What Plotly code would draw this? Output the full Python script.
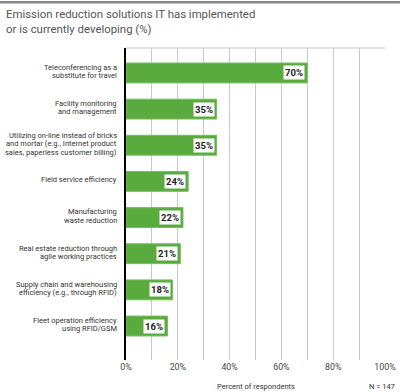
import plotly.graph_objects as go

categories = [
    "Teleconferencing as a<br>substitute for travel",
    "Facility monitoring<br>and management",
    "Utilizing on-line instead of bricks<br>and mortar (e.g., Internet product<br>sales, paperless customer billing)",
    "Field service efficiency",
    "Manufacturing<br>waste reduction",
    "Real estate reduction through<br>agile working practices",
    "Supply chain and warehousing<br>efficiency (e.g., through RFID)",
    "Fleet operation efficiency<br>using RFID/GSM",
]
values = [70, 35, 35, 24, 22, 21, 18, 16]
x_ticks = [0, 10, 20, 30, 40, 50, 60, 70, 80, 90, 100]
x_tick_labels = ["0%", "", "20%", "", "40%", "", "60%", "", "80%", "", "100%"]
title_lines = ["Emission reduction solutions IT has implemented", "or is currently developing (%)"]

GREEN = "#5aab3e"
FONT = "Roboto, Liberation Sans, sans-serif"

idx = list(range(len(categories)))

fig = go.Figure()
fig.add_trace(go.Bar(
    x=values, y=idx, orientation="h",
    marker=dict(color=GREEN, line=dict(color="#78bd5c", width=1)),
    width=0.55, hoverinfo="skip",
))

# value labels
for i, v in enumerate(values):
    fig.add_annotation(
        x=v, y=i, xref="x", yref="y", text=f"<b>{v}%</b>",
        xanchor="right", yanchor="middle", xshift=-2, showarrow=False,
        font=dict(family=FONT, size=9.5, color="#222"),
        bgcolor="white", borderpad=1,
    )

# category labels (one annotation per line for tight line spacing)
LINE = 8.4
for i, cat in enumerate(categories):
    lines = cat.split("<br>")
    n = len(lines)
    for k, ln in enumerate(lines):
        fig.add_annotation(
            x=0, y=i, xref="paper", yref="y", text=ln,
            xanchor="right", yanchor="middle", xshift=-7,
            yshift=((n - 1) / 2 - k) * LINE + 1.5, showarrow=False,
            font=dict(family=FONT, size=7.5, color="#333"),
        )

fig.update_layout(
    width=400, height=392,
    margin=dict(l=126, r=15, t=48, b=32, autoexpand=False),
    paper_bgcolor="white", plot_bgcolor="white",
    showlegend=False,
    xaxis=dict(
        range=[0, 100], tickvals=x_ticks, ticktext=x_tick_labels,
        showgrid=True, gridcolor="#c8c8c8", gridwidth=1,
        tickfont=dict(family=FONT, size=8.8, color="#444"),
        zeroline=False, showline=False, automargin=False,
    ),
    yaxis=dict(
        range=[7.94, -0.69], tickvals=idx, showticklabels=False,
        showgrid=False, zeroline=False, automargin=False,
        showline=True, linecolor="black", linewidth=1.5,
    ),
)

# top border of plot area
fig.add_shape(type="line", xref="x domain", yref="y domain", x0=0, x1=1, y0=1, y1=1,
              line=dict(color="#c8c8c8", width=1))
# top gray rule
fig.add_shape(type="line", xref="paper", yref="paper", x0=-0.5, x1=1.1, y0=1.147, y1=1.147,
              line=dict(color="#888", width=2.5))

for k, t in enumerate(title_lines):
    fig.add_annotation(xref="paper", yref="paper", x=-0.471, y=1.109 - k * 0.048,
                       xanchor="left", yanchor="middle", showarrow=False, text=t,
                       font=dict(family=FONT, size=11.4, color="#555"))
fig.add_annotation(xref="paper", yref="paper", x=0.5, y=-0.0865, xanchor="center", yanchor="middle",
                   showarrow=False, text="Percent of respondents",
                   font=dict(family=FONT, size=7.5, color="#333"))
fig.add_annotation(xref="paper", yref="paper", x=1.046, y=-0.0865, xanchor="right", yanchor="middle",
                   showarrow=False, text="N = 147",
                   font=dict(family=FONT, size=7.5, color="#333"))

fig.write_html("out.html", config={"displayModeBar": False},
               post_script="document.body.style.margin='0';document.body.style.overflow='hidden';")
